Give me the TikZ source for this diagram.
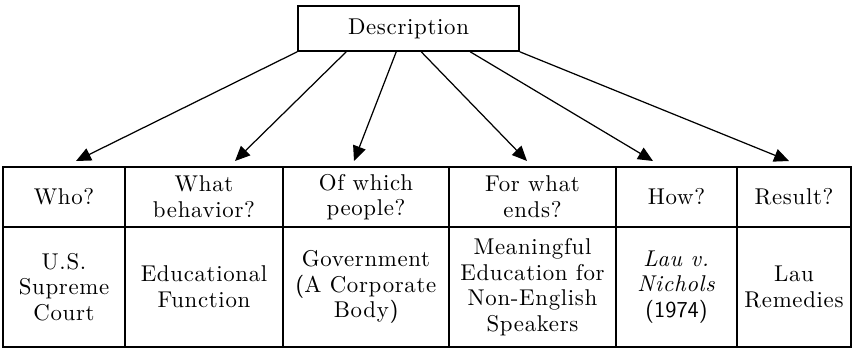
\documentclass[tikz,border=0pt]{standalone}
\usepackage{fontspec}
\setmainfont{lmroman10-regular.otf}[ItalicFont=lmroman10-italic.otf, LetterSpace=3]
\usetikzlibrary{arrows.meta}
\tikzset{
  cellText/.style={font=\fontsize{13}{14.6}\selectfont},
  topBox/.style={draw, line width=0.9pt, minimum width=4.42cm, minimum height=0.9cm, inner sep=0pt, cellText},
  headCell/.style={draw, line width=0.9pt, minimum height=1.2cm, inner sep=0pt, align=center, cellText},
  bodyCell/.style={draw, line width=0.9pt, minimum height=2.4cm, inner sep=0pt, align=center, cellText},
  descArrow/.style={-{Triangle[length=8.5pt, width=7.5pt]}, line width=0.7pt}
}

\begin{document}
\begin{tikzpicture}[x=0.02cm, y=-0.02cm]
  \useasboundingbox (0,0) rectangle (853,349);

  % Caixa de cima
  \node[topBox] (desc) at (408.5,28.5) {Description};

  % Linha de perguntas
  \node[headCell, minimum width=2.44cm] (who)    at (64,197)    {Who?};
  \node[headCell, minimum width=3.16cm] (what)   at (204,197)   {What\\behavior?};
  \node[headCell, minimum width=3.32cm] (people) at (366,197)   {Of which\\people?};
  \node[headCell, minimum width=3.34cm] (ends)   at (532.5,197) {For what\\ends?};
  \node[headCell, minimum width=2.42cm] (how)    at (676.5,197) {How?};
  \node[headCell, minimum width=2.28cm] (result) at (794,197)   {Result?};

  % Linha de respostas
  \node[bodyCell, minimum width=2.44cm] (court)    at (64,287)    {U.S.\\Supreme\\Court};
  \node[bodyCell, minimum width=3.16cm] (function) at (204,287)   {Educational\\Function};
  \node[bodyCell, minimum width=3.32cm] (govt)     at (366,287)   {Government\\\textsf{(}A Corporate\\Body\textsf{)}};
  \node[bodyCell, minimum width=3.34cm] (meaning)  at (532.5,287) {Meaningful\\Education for\\Non-English\\Speakers};
  \node[bodyCell, minimum width=2.42cm] (lau)      at (676.5,287) {\textit{Lau v.}\\\textit{Nichols}\\\textsf{(1974)}};
  \node[bodyCell, minimum width=2.28cm] (remedy)   at (794,287)   {Lau\\Remedies};

  % Pontas das setas
  \coordinate (tWho)    at (76,161);
  \coordinate (tWhat)   at (235,161);
  \coordinate (tPeople) at (354,161);
  \coordinate (tEnds)   at (527,161);
  \coordinate (tHow)    at (653,161);
  \coordinate (tResult) at (789,161);

  % Setas
  \draw[descArrow] (desc.south west) -- (tWho);
  \draw[descArrow] ([xshift=49*0.02cm]desc.south west) -- (tWhat);
  \draw[descArrow] ([xshift=99*0.02cm]desc.south west) -- (tPeople);
  \draw[descArrow] ([xshift=124*0.02cm]desc.south west) -- (tEnds);
  \draw[descArrow] ([xshift=173*0.02cm]desc.south west) -- (tHow);
  \draw[descArrow] (desc.south east) -- (tResult);
\end{tikzpicture}
\end{document}
